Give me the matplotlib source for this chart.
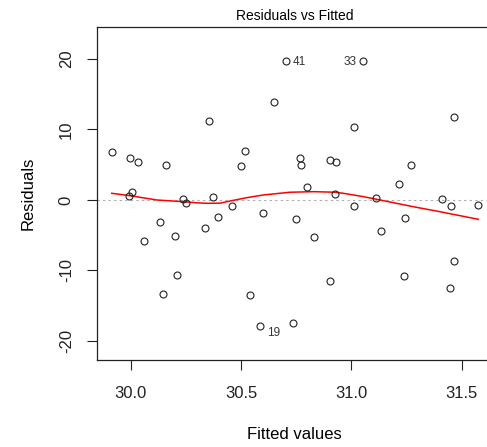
import matplotlib
matplotlib.use('Agg')
import matplotlib.pyplot as plt

# fitted values / residuals
fitted = [29.914, 29.997, 30.032, 30.159, 30.355, 30.518, 30.501, 30.649, 30.702, 30.005,
          29.994, 30.238, 30.249, 30.374, 30.460, 30.598, 30.131, 30.397, 30.338, 30.062,
          30.201, 30.210, 30.148, 30.541, 30.587, 31.054, 31.012, 31.466, 30.767, 30.770,
          30.903, 30.929, 31.271, 31.217, 30.800, 30.926, 31.111, 31.409, 31.012, 31.451,
          31.574, 30.750, 30.831, 31.133, 31.244, 31.466, 31.238, 30.904, 31.445, 30.735]
residuals = [6.77, 5.96, 5.39, 4.96, 11.25, 6.95, 4.78, 13.90, 19.72, 1.13,
             0.61, 0.18, -0.38, 0.47, -0.85, -1.84, -3.16, -2.37, -4.01, -5.82,
             -5.15, -10.68, -13.33, -13.48, -17.91, 19.72, 10.40, 11.73, 5.96, 4.96,
             5.67, 5.43, 4.96, 2.31, 1.84, 0.81, 0.33, 0.18, -0.81, -0.81,
             -0.67, -2.70, -5.21, -4.35, -2.51, -8.65, -10.82, -11.45, -12.48, -17.45]

# red smoother
smooth_x = [29.914, 29.997, 30.118, 30.238, 30.300, 30.344, 30.405, 30.465, 30.530, 30.601,
            30.722, 30.830, 30.926, 30.963, 31.050, 31.130, 31.280, 31.401, 31.575]
smooth_y = [0.95, 0.61, 0.0, -0.24, -0.40, -0.47, -0.45, -0.05, 0.35, 0.71,
            1.10, 1.18, 1.10, 0.95, 0.50, 0.0, -0.95, -1.66, -2.74]

# labelled observations: (index into arrays, label, side)
outliers = [(8, '41', 'right'), (25, '33', 'left'), (24, '19', 'right')]

x_ticks = [30.0, 30.5, 31.0, 31.5]
y_ticks = [-20, -10, 0, 10, 20]


def main():
    plt.rcParams['font.family'] = ['Liberation Sans', 'DejaVu Sans']
    fig = plt.figure(figsize=(4.87, 4.47), dpi=100)
    ax = fig.add_axes([0.1986, 0.194, 0.8129, 0.7456])

    ax.axhline(0, color='#aaaaaa', lw=0.8, linestyle=(0, (2, 3)), zorder=1)
    ax.plot(smooth_x, smooth_y, color='red', lw=1.1, zorder=2)
    ax.plot(fitted, residuals, 'o', mfc='none', mec='#222222', ms=5, mew=0.8, zorder=3)

    for i, lab, side in outliers:
        if side == 'right':
            off, ha = (5, -1), 'left'
        else:
            off, ha = (-5, -1), 'right'
        if lab == '19':
            off = (5, -5)
        ax.annotate(lab, (fitted[i], residuals[i]), xytext=off, textcoords='offset points',
                    ha=ha, va='center', fontsize=8.5, color='#333333')

    ax.set_xlim(29.846, 31.64)
    ax.set_ylim(-22.74, 24.54)
    ax.set_xticks(x_ticks)
    ax.set_xticklabels(['%.1f' % t for t in x_ticks])
    ax.set_yticks(y_ticks)
    ax.set_yticklabels([str(t) for t in y_ticks], rotation=90, va='center')

    ax.tick_params(axis='both', direction='out', length=7.5, width=0.8, labelsize=12,
                   colors='#222222')
    ax.tick_params(axis='x', pad=11)
    ax.tick_params(axis='y', pad=9)
    for s in ax.spines.values():
        s.set_linewidth(0.9)
        s.set_color('#222222')

    ax.set_title('Residuals vs Fitted', fontsize=10, pad=5)
    ax.set_xlabel('Fitted values', fontsize=12, labelpad=19)
    ax.set_ylabel('Residuals', fontsize=12, labelpad=17)

    fig.savefig('out.png', dpi=100)


if __name__ == '__main__':
    main()
